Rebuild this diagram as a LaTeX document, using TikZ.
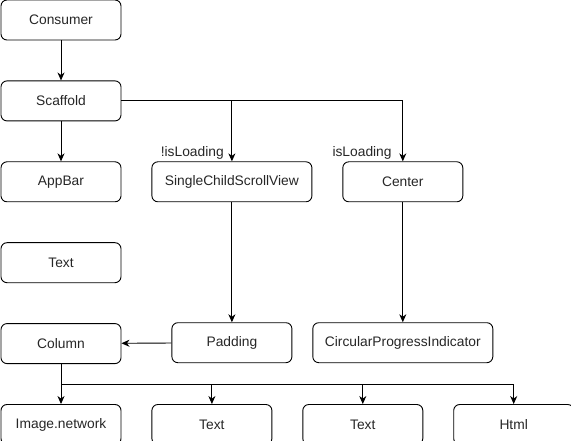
\documentclass[tikz,border=0pt]{standalone}
\usepackage{fontspec}
\setmainfont{Liberation Sans}
\usetikzlibrary{arrows.meta,positioning}
\tikzset{>={Stealth[length=8pt,width=7pt,inset=2.5pt]}}
\tikzset{main node/.style={rectangle,rounded corners=6pt,draw,line width=0.9pt,minimum width=120pt,minimum height=40pt,inner sep=0pt,text=black!85,font=\fontsize{13.8}{16}\selectfont},
            label node/.style={inner sep=0pt,text=black!85,font=\fontsize{13.8}{16}\selectfont},
            elbow/.style={to path={-| (\tikztotarget)}},
            bus/.style={to path={(\tikztostart.south) -- ++(0,20) -| (\tikztotarget.north)}},
            }

\begin{document}
\begin{tikzpicture}[x=1pt,y=-1pt]
    \useasboundingbox (0,0) rectangle (571,441);

    \node[main node] (1) at (61,20) {Consumer};
    \node[main node] (2) [below = 40pt of 1] {Scaffold};
    \node[main node] (3) [below = 40pt of 2] {AppBar};
    \node[main node] (4) [below = 40pt of 3] {Text};
    \node[main node] (5) [below = 40pt of 4] {Column};
    \node[main node,minimum width=160pt] (6) [right = 30pt of 3] {SingleChildScrollView};
    \node[main node] (7) [right = 30pt of 6] {Center};
    \node[main node] (8) [below = 120pt of 6] {Padding};
    \node[main node,minimum width=180pt] (9) [below = 120pt of 7] {CircularProgressIndicator};
    \node[main node] (10) [below = 40pt of 5] {Image.network};
    \node[main node] (11) [right = 30pt of 10] {Text};
    \node[main node] (12) [right = 30pt of 11] {Text};
    \node[main node] (13) [right = 30pt of 12] {Html};

    \node[label node] (l1) [above left = 2pt and 8pt of 6.north] {!isLoading};
    \node[label node] (l2) [above left = 2pt and 11pt of 7.north] {isLoading};

    \path[draw,line width=0.9pt,->]
    (1) edge node {} (2)
    (2) edge node {} (3)
    (2) edge[elbow] node {} (6)
    (2) edge[elbow] node {} (7)
    (6) edge node {} (8)
    (7) edge node {} (9)
    (8) edge node {} (5)
    (5) edge node {} (10)
    (5) edge[bus] node {} (11)
    (5) edge[bus] node {} (12)
    (5) edge[bus] node {} (13);

\end{tikzpicture}
\end{document}
